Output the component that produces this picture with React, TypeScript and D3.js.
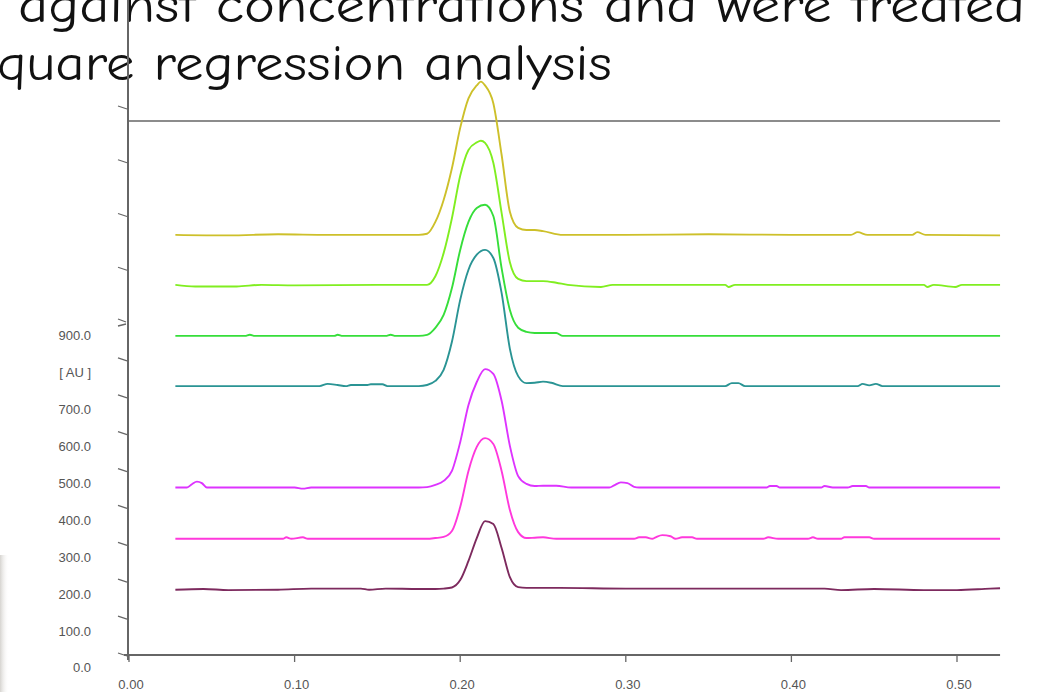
import { useEffect, useRef } from 'react';
import * as d3 from 'd3';

const W = 1056;
const H = 692;

// slide text behind the chart
const headingLines = ['against concentrations and were treated', 'quare regression analysis'];

// axis ticks
const yTickValues = [0, 100, 200, 300, 400, 500, 600, 700, 800, 900, 1000, 1100, 1200, 1300];
const yTickLabels = ['0.0', '100.0', '200.0', '300.0', '400.0', '500.0', '600.0', '700.0', '[ AU ]', '900.0'];
const xTickValues = [0, 0.1, 0.2, 0.3, 0.4, 0.5];
const xTickLabels = ['0.00', '0.10', '0.20', '0.30', '0.40', '0.50'];
const xEnd = 0.526;

// densitogram tracks, [Rf, AU]
const yellowTrace = [[0.028, 1064], [0.06, 1063], [0.09, 1065], [0.12, 1064], [0.15, 1064], [0.175, 1064], [0.18, 1066], [0.185, 1088], [0.19, 1129], [0.195, 1188], [0.2, 1263], [0.205, 1318], [0.21, 1342], [0.2125, 1349], [0.215, 1342], [0.22, 1309], [0.225, 1213], [0.23, 1107], [0.235, 1077], [0.24, 1073], [0.245, 1073], [0.25, 1071], [0.262, 1064], [0.3, 1064], [0.35, 1065], [0.4, 1064], [0.436, 1064], [0.44, 1069], [0.446, 1064], [0.473, 1064], [0.476, 1069], [0.481, 1064], [0.526, 1063]];
const limeTrace = [[0.028, 971], [0.04, 968], [0.065, 968], [0.08, 971], [0.1, 970], [0.15, 971], [0.175, 971], [0.18, 971], [0.185, 987], [0.19, 1030], [0.195, 1095], [0.2, 1174], [0.205, 1222], [0.21, 1236], [0.2125, 1239], [0.215, 1235], [0.22, 1198], [0.225, 1105], [0.23, 1013], [0.235, 982], [0.24, 978], [0.245, 978], [0.25, 978], [0.258, 975], [0.265, 971], [0.285, 967], [0.292, 971], [0.36, 971], [0.362, 967], [0.366, 971], [0.4, 971], [0.48, 971], [0.482, 967], [0.486, 971], [0.499, 967], [0.503, 971], [0.526, 971]];
const greenTrace = [[0.028, 865], [0.07, 865], [0.073, 868], [0.076, 865], [0.124, 865], [0.126, 868], [0.129, 865], [0.155, 865], [0.158, 868], [0.161, 865], [0.175, 865], [0.18, 868], [0.185, 887], [0.19, 915], [0.195, 965], [0.2, 1036], [0.205, 1088], [0.21, 1114], [0.215, 1120], [0.22, 1099], [0.225, 1002], [0.23, 924], [0.235, 887], [0.24, 876], [0.245, 873], [0.25, 873], [0.258, 873], [0.262, 865], [0.526, 865]];
const tealTrace = [[0.028, 729], [0.115, 729], [0.12, 735], [0.126, 732], [0.131, 729], [0.134, 732], [0.144, 732], [0.146, 734], [0.153, 734], [0.156, 729], [0.175, 729], [0.18, 732], [0.185, 743], [0.19, 773], [0.195, 849], [0.2, 943], [0.205, 999], [0.21, 1027], [0.215, 1036], [0.22, 1021], [0.225, 956], [0.23, 830], [0.235, 756], [0.24, 737], [0.245, 738], [0.25, 741], [0.255, 738], [0.262, 729], [0.36, 729], [0.364, 737], [0.368, 737], [0.372, 729], [0.44, 729], [0.443, 735], [0.447, 731], [0.451, 735], [0.455, 729], [0.526, 729]];
const violetTrace = [[0.028, 454], [0.035, 454], [0.038, 463], [0.041, 470], [0.044, 466], [0.047, 454], [0.1, 454], [0.105, 451], [0.11, 454], [0.175, 454], [0.18, 455], [0.185, 461], [0.19, 472], [0.195, 499], [0.2, 577], [0.205, 678], [0.21, 740], [0.215, 775], [0.22, 762], [0.225, 689], [0.23, 567], [0.235, 485], [0.24, 464], [0.245, 458], [0.25, 459], [0.258, 459], [0.267, 454], [0.29, 454], [0.293, 460], [0.297, 468], [0.301, 466], [0.305, 456], [0.308, 454], [0.385, 454], [0.387, 458], [0.391, 458], [0.393, 454], [0.418, 454], [0.42, 458], [0.425, 454], [0.434, 454], [0.437, 458], [0.445, 458], [0.447, 454], [0.526, 454]];
const pinkTrace = [[0.028, 315], [0.093, 315], [0.095, 319], [0.098, 315], [0.105, 319], [0.108, 315], [0.175, 315], [0.18, 315], [0.185, 317], [0.19, 320], [0.195, 336], [0.2, 401], [0.205, 499], [0.21, 564], [0.215, 588], [0.22, 572], [0.225, 499], [0.23, 393], [0.235, 333], [0.24, 317], [0.245, 318], [0.25, 319], [0.258, 315], [0.305, 315], [0.308, 319], [0.312, 319], [0.316, 315], [0.318, 319], [0.322, 325], [0.327, 322], [0.33, 315], [0.334, 319], [0.34, 319], [0.343, 315], [0.383, 315], [0.386, 319], [0.392, 315], [0.41, 315], [0.413, 319], [0.416, 315], [0.43, 315], [0.432, 319], [0.447, 319], [0.45, 315], [0.526, 315]];
const maroonTrace = [[0.028, 177], [0.045, 179], [0.06, 176], [0.09, 177], [0.11, 180], [0.14, 180], [0.145, 177], [0.155, 180], [0.175, 179], [0.18, 179], [0.185, 179], [0.19, 180], [0.195, 183], [0.2, 203], [0.205, 255], [0.21, 317], [0.215, 363], [0.22, 355], [0.225, 290], [0.23, 211], [0.235, 184], [0.24, 182], [0.245, 182], [0.25, 182], [0.26, 182], [0.3, 180], [0.35, 180], [0.42, 180], [0.43, 176], [0.45, 179], [0.48, 176], [0.5, 176], [0.52, 180], [0.526, 181]];

const traces = [yellowTrace, limeTrace, greenTrace, tealTrace, violetTrace, pinkTrace, maroonTrace];
const traceColors = ['#cdc02a', '#80ee20', '#36de3a', '#2a9494', '#dd33ff', '#ff38dc', '#7d2a5e'];

const App = () => {
  const svgRef = useRef(null);

  useEffect(() => {
    const svg = d3.select(svgRef.current)
      .attr('width', W)
      .attr('height', H);

    svg.selectAll('*').remove();

    // the scanner software squeezes the lower part of the intensity axis
    const y = d3.scaleLinear().domain([0, 900, 1300]).range([655, 323, 108]);
    const x = d3.scaleLinear().domain([0, 0.5]).range([129, 957]);
    const axisColor = '#666';

    svg.append('rect').attr('width', W).attr('height', H).attr('fill', '#fff');

    // grey edge of the slide, bottom left
    const grad = svg.append('defs').append('linearGradient')
      .attr('id', 'edge').attr('x1', 0).attr('x2', 1).attr('y1', 0).attr('y2', 0);
    grad.append('stop').attr('offset', 0).attr('stop-color', '#d6d4d0');
    grad.append('stop').attr('offset', 1).attr('stop-color', '#fff').attr('stop-opacity', 0);
    svg.append('rect').attr('x', 0).attr('y', 555).attr('width', 9).attr('height', H - 555)
      .attr('fill', 'url(#edge)');

    // slide text
    svg.selectAll('text.heading')
      .data(headingLines)
      .enter()
      .append('text')
      .attr('class', 'heading')
      .attr('x', (d, i) => i === 0 ? 18 : -3)
      .attr('y', (d, i) => i === 0 ? 22 : 80)
      .attr('textLength', (d, i) => i === 0 ? 1007 : 615)
      .attr('lengthAdjust', 'spacingAndGlyphs')
      .style('font-family', "'Comic Sans MS', 'Comic Neue', 'DejaVu Sans', sans-serif")
      .style('font-size', '50px')
      .attr('fill', '#111')
      .text(d => d);

    // frame
    svg.append('line')
      .attr('x1', 128).attr('x2', x(xEnd)).attr('y1', 121).attr('y2', 121)
      .attr('stroke', axisColor).attr('stroke-width', 1.5);
    svg.append('line')
      .attr('x1', 128).attr('x2', 128).attr('y1', 0).attr('y2', y(0) + 5)
      .attr('stroke', axisColor).attr('stroke-width', 2);
    svg.append('line')
      .attr('x1', 124).attr('x2', x(xEnd)).attr('y1', y(0)).attr('y2', y(0))
      .attr('stroke', axisColor).attr('stroke-width', 2);

    // y ticks
    svg.selectAll('path.ytick')
      .data(yTickValues)
      .enter()
      .append('path')
      .attr('class', 'ytick')
      .attr('d', d => d === 900
        ? `M118,${y(d) - 4} L126,${y(d) - 1} M118,${y(d) + 3} L126,${y(d) + 1}`
        : `M118,${y(d) - 2} L121,${y(d) - 1} L127,${y(d) + 1}`)
      .attr('fill', 'none')
      .attr('stroke', axisColor)
      .attr('stroke-width', 1.3);

    svg.selectAll('text.ylab')
      .data(yTickLabels)
      .enter()
      .append('text')
      .attr('class', 'ylab')
      .attr('x', 91)
      .attr('y', (d, i) => y(yTickValues[i]) + 14)
      .attr('dominant-baseline', 'middle')
      .attr('text-anchor', 'end')
      .attr('fill', '#555')
      .style('font-family', "'Liberation Sans', Arial, sans-serif")
      .style('font-size', '13px')
      .text(d => d);

    // x ticks
    svg.selectAll('line.xtick')
      .data(xTickValues)
      .enter()
      .append('line')
      .attr('class', 'xtick')
      .attr('x1', d => x(d)).attr('x2', d => x(d))
      .attr('y1', y(0)).attr('y2', y(0) + 7)
      .attr('stroke', axisColor).attr('stroke-width', 1.3);

    svg.selectAll('text.xlab')
      .data(xTickLabels)
      .enter()
      .append('text')
      .attr('class', 'xlab')
      .attr('x', (d, i) => x(xTickValues[i]) + 2)
      .attr('y', 686)
      .attr('dominant-baseline', 'middle')
      .attr('text-anchor', 'middle')
      .attr('fill', '#555')
      .style('font-family', "'Liberation Sans', Arial, sans-serif")
      .style('font-size', '13px')
      .text(d => d);

    // tracks
    const line = d3.line()
      .x(d => x(d[0]))
      .y(d => y(d[1]))
      .curve(d3.curveMonotoneX);

    svg.selectAll('path.track')
      .data(traces)
      .enter()
      .append('path')
      .attr('class', 'track')
      .attr('d', line)
      .attr('fill', 'none')
      .attr('stroke', (d, i) => traceColors[i])
      .attr('stroke-width', 1.9);
  }, []);

  return (
    <div style={{ position: 'absolute', left: 0, top: 0 }}>
      <svg ref={svgRef} style={{ display: 'block' }}></svg>
    </div>
  );
};

export default App;
